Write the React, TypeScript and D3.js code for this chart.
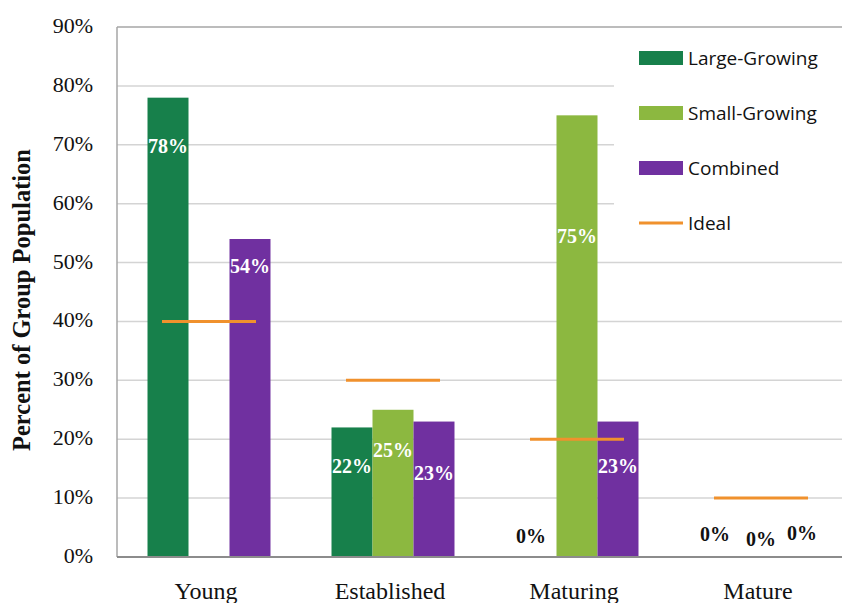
import React from "react";
import * as d3 from "d3";

// Categories and series
const categories = ["Young", "Established", "Maturing", "Mature"];
const seriesNames = ["Large-Growing", "Small-Growing", "Combined"];
const largeGrowing = [78, 22, 0, 0];
const smallGrowing: (number | null)[] = [null, 25, 75, 0];
const combined = [54, 23, 23, 0];
const ideal = [40, 30, 20, 10];
const yTicks = [0, 10, 20, 30, 40, 50, 60, 70, 80, 90];

// Where each data label sits (in axis units) and a small horizontal nudge
const largeLabelAt = [68.6, 14.3, 2.4, 2.7];
const smallLabelAt = [0, 17.0, 53.3, 1.9];
const combinedLabelAt = [48.2, 13.1, 14.3, 2.9];
const largeLabelDx = [0, 0, -5, -5];

const colors = ["#17804b", "#8cb840", "#7030a0"];
const idealColor = "#f0912d";

const W = 842;
const H = 603;
const left = 117;
const top = 27;
const bottom = 557;
const right = left + 4 * 184;

export default function App() {
  const x0 = d3.scaleBand<string>().domain(categories).range([left, right]).paddingInner(0).paddingOuter(0);
  const x1 = d3
    .scaleBand<string>()
    .domain(seriesNames)
    .range([0, x0.bandwidth()])
    .paddingInner(0)
    .paddingOuter(0.744);
  const y = d3.scaleLinear().domain([0, 90]).range([bottom, top]);

  const seriesValues = [largeGrowing, smallGrowing, combined];
  const labelAt = [largeLabelAt, smallLabelAt, combinedLabelAt];

  const serif = "'Liberation Serif', 'Times New Roman', serif";
  const sans = "'Open Sans', 'Liberation Sans', sans-serif";

  return (
    <svg
      width={W}
      height={H}
      viewBox={`0 0 ${W} ${H}`}
      style={{ position: "absolute", left: 0, top: 0, background: "#fff" }}
    >
      <rect x={0} y={0} width={W} height={H} fill="#fff" />
      {/* gridlines */}
      {yTicks
        .filter((t) => t > 0 && t < 90)
        .map((t) => (
          <line key={t} x1={left} x2={right} y1={y(t)} y2={y(t)} stroke="#d4d4d4" strokeWidth={1.5} />
        ))}
      {/* frame */}
      <line x1={left} x2={right} y1={y(90)} y2={y(90)} stroke="#a6a6a6" strokeWidth={1.5} />
      <line x1={left} x2={left} y1={top} y2={bottom} stroke="#a6a6a6" strokeWidth={1.5} />

      {/* legend background */}
      <rect x={614} y={35} width={240} height={210} fill="#fff" />

      {/* bars */}
      {seriesNames.map((s, si) =>
        categories.map((c, ci) => {
          const v = seriesValues[si][ci];
          if (v == null || v === 0) return null;
          const bx = (x0(c) ?? 0) + (x1(s) ?? 0);
          return (
            <rect
              key={`${s}-${c}`}
              x={bx}
              y={y(v)}
              width={x1.bandwidth()}
              height={y(0) - y(v)}
              fill={colors[si]}
            />
          );
        })
      )}

      {/* ideal lines */}
      {categories.map((c, ci) => {
        const cx = (x0(c) ?? 0) + x0.bandwidth() / 2;
        return (
          <line
            key={`ideal-${c}`}
            x1={cx - 47}
            x2={cx + 47}
            y1={y(ideal[ci])}
            y2={y(ideal[ci])}
            stroke={idealColor}
            strokeWidth={3}
          />
        );
      })}

      {/* data labels */}
      {seriesNames.map((s, si) =>
        categories.map((c, ci) => {
          const v = seriesValues[si][ci];
          if (v == null) return null;
          const cx = (x0(c) ?? 0) + (x1(s) ?? 0) + x1.bandwidth() / 2 + (si === 0 ? largeLabelDx[ci] : 0);
          return (
            <text
              key={`lbl-${s}-${c}`}
              x={cx}
              y={y(labelAt[si][ci])}
              textAnchor="middle"
              fontFamily={serif}
              fontWeight="bold"
              fontSize={20}
              fill={v === 0 ? "#111" : "#fff"}
            >
              {`${v}%`}
            </text>
          );
        })
      )}

      {/* x axis */}
      <line x1={left} x2={right} y1={bottom} y2={bottom} stroke="#8c8c8c" strokeWidth={2} />
      {categories.map((c) => (
        <text
          key={`cat-${c}`}
          x={(x0(c) ?? 0) + x0.bandwidth() / 2 - 3}
          y={599}
          textAnchor="middle"
          fontFamily={serif}
          fontSize={24}
          fill="#111"
        >
          {c}
        </text>
      ))}

      {/* y axis ticks */}
      {yTicks.map((t) => (
        <text
          key={`tick-${t}`}
          x={93}
          y={y(t) + 6}
          textAnchor="end"
          fontFamily={serif}
          fontSize={22}
          fill="#111"
        >
          {`${t}%`}
        </text>
      ))}

      {/* y axis title */}
      <text
        transform={`translate(30, 300) rotate(-90)`}
        textAnchor="middle"
        fontFamily={serif}
        fontWeight="bold"
        fontSize={24.5}
        fill="#111"
      >
        Percent of Group Population
      </text>

      {/* legend */}
      {seriesNames.map((s, i) => (
        <g key={`leg-${s}`} transform={`translate(639, ${58 + i * 55})`}>
          <rect x={0} y={-7} width={44} height={14} fill={colors[i]} />
          <text x={49} y={7} fontFamily={sans} fontSize={19} fill="#111">
            {s}
          </text>
        </g>
      ))}
      <g transform={`translate(639, ${58 + 3 * 55})`}>
        <line x1={0} x2={44} y1={0} y2={0} stroke={idealColor} strokeWidth={3} />
        <text x={49} y={7} fontFamily={sans} fontSize={19} fill="#111">
          Ideal
        </text>
      </g>
    </svg>
  );
}
